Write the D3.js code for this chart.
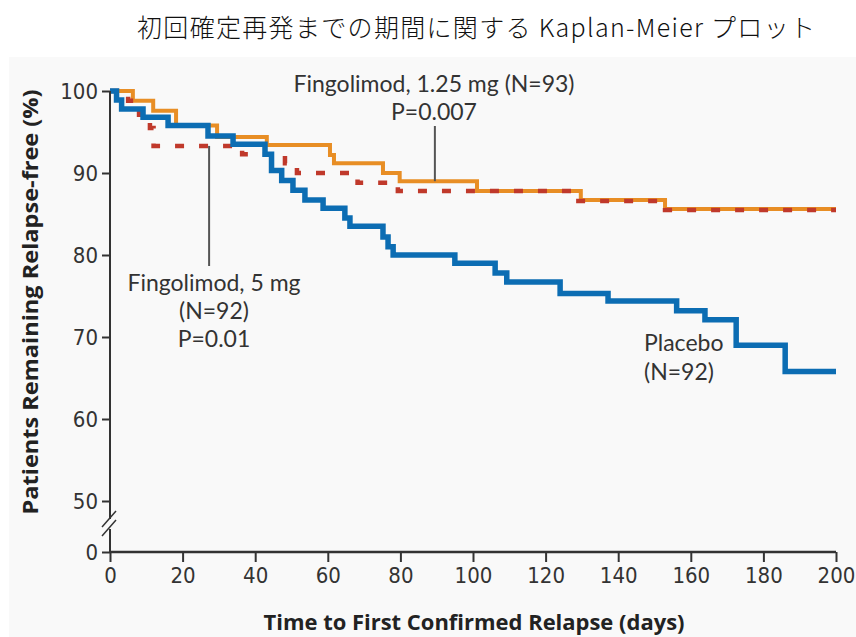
<!DOCTYPE html>
<html>
<head>
<meta charset="utf-8">
<script src="https://cdn.jsdelivr.net/npm/d3@7"></script>
<style>
  html, body { margin: 0; padding: 0; background: #ffffff; }
  svg { display: block; }
</style>
</head>
<body>
<svg id="chart" width="856" height="637"></svg>
<script>
// ---------------- data ----------------
const titleText = "初回確定再発までの期間に関する Kaplan-Meier プロット";
const xTitle = "Time to First Confirmed Relapse (days)";
const yTitle = "Patients Remaining Relapse-free (%)";

const xTicks = [0, 20, 40, 60, 80, 100, 120, 140, 160, 180, 200];
const yTicks = [0, 50, 60, 70, 80, 90, 100];

const placeboDays = [0, 1.8, 3.2, 9.1, 16, 27, 33.9, 42.7, 44.5, 47.3, 50.4, 53.7, 58.7, 64.7, 66.1, 75.2, 76.6, 78.0, 95.0, 106.1, 109.3, 124.0, 137.2, 156.1, 163.9, 172.5, 186.0, 200];
const placeboVals = [100, 98.9, 97.8, 96.8, 95.8, 94.5, 93.5, 92.3, 90.3, 89.1, 87.9, 86.7, 85.7, 84.5, 83.5, 82.2, 81.0, 80.0, 79.0, 77.8, 76.7, 75.3, 74.4, 73.2, 72.1, 69.0, 65.8, 65.8];

const fing125Days = [0, 6.3, 11.9, 18.2, 29.5, 43.2, 60.6, 61.7, 75.2, 79.8, 101.1, 129.7, 152.9, 200];
const fing125Vals = [100, 98.8, 97.6, 95.8, 94.4, 93.4, 92.2, 91.2, 90.0, 89.0, 87.8, 86.7, 85.6, 85.6];

const fing5Days = [0, 5, 8, 11, 12, 36.4, 48.2, 51.5, 68.2, 79.3, 127.5, 152.9, 200];
const fing5Vals = [100, 98.8, 97.1, 95.5, 93.3, 92.3, 91.2, 90.0, 88.8, 87.8, 86.6, 85.5, 85.5];

const label125 = ["Fingolimod, 1.25 mg (N=93)", "P=0.007"];
const label5 = ["Fingolimod, 5 mg", "(N=92)", "P=0.01"];
const labelPlacebo = ["Placebo", "(N=92)"];

// ---------------- layout ----------------
const svg = d3.select("#chart");
const W = 856, H = 637;

svg.append("rect").attr("x", 9).attr("y", 57).attr("width", W - 9).attr("height", H - 57)
  .attr("fill", "#f9f9f9");

const x = d3.scaleLinear().domain([0, 200]).range([110, 836]);
const y = d3.scaleLinear().domain([0, 50, 100]).range([552, 501, 91]);

const axisColor = "#333";
const textColor = "#333";
const tickFont = "'Liberation Sans Narrow', 'DejaVu Sans Condensed', 'Arial Narrow', sans-serif";
const labelFont = "Lato, 'Open Sans', sans-serif";

// title
svg.append("text").attr("x", 476).attr("y", 37).attr("text-anchor", "middle")
  .attr("font-family", "'Noto Sans CJK JP', sans-serif").attr("font-size", 25).attr("font-weight", 300)
  .attr("textLength", 678).attr("lengthAdjust", "spacing")
  .attr("fill", "#111").text(titleText);

// ---- curves ----
const line = d3.line().x(d => x(d[0])).y(d => y(d[1])).curve(d3.curveStepAfter);
const zip = (a, b) => a.map((v, i) => [v, b[i]]);

svg.append("path").datum(zip(fing125Days, fing125Vals)).attr("d", line)
  .attr("fill", "none").attr("stroke", "#e88e25").attr("stroke-width", 4);
svg.append("path").datum(zip(fing5Days, fing5Vals)).attr("d", line)
  .attr("fill", "none").attr("stroke", "#c0392b").attr("stroke-width", 4.5)
  .attr("stroke-dasharray", "9,15");
svg.append("path").datum(zip(placeboDays, placeboVals)).attr("d", line)
  .attr("fill", "none").attr("stroke", "#0c6db3").attr("stroke-width", 5.5);

// ---- axes ----
const yAxis = d3.axisLeft(y).tickValues(yTicks).tickSize(8).tickPadding(4).tickFormat(d3.format("d"));
const gy = svg.append("g").attr("transform", `translate(${x(0)},0)`).call(yAxis);
gy.select(".domain").remove();
gy.selectAll(".tick line").attr("stroke", axisColor).attr("stroke-width", 2);
gy.selectAll(".tick text").attr("font-family", tickFont).attr("font-size", 22).attr("fill", textColor);

const xAxis = d3.axisBottom(x).tickValues(xTicks).tickSize(10).tickPadding(5).tickFormat(d3.format("d"));
const gx = svg.append("g").attr("transform", `translate(0,${y(0)})`).call(xAxis);
gx.select(".domain").attr("stroke", axisColor).attr("stroke-width", 2.5).attr("d", `M${x(0)},0H${x(200)}`);
gx.selectAll(".tick line").attr("stroke", axisColor).attr("stroke-width", 2);
gx.selectAll(".tick text").attr("font-family", tickFont).attr("font-size", 22).attr("fill", textColor);

// y axis line with break
const x0 = x(0);
svg.append("line").attr("x1", x0).attr("x2", x0).attr("y1", y(100)).attr("y2", 519)
  .attr("stroke", axisColor).attr("stroke-width", 2);
svg.append("line").attr("x1", x0).attr("x2", x0).attr("y1", 529).attr("y2", y(0))
  .attr("stroke", axisColor).attr("stroke-width", 2);
[0, 9].forEach(o => {
  svg.append("line").attr("x1", x0 - 8).attr("y1", 527 + o).attr("x2", x0 + 6).attr("y2", 511 + o)
    .attr("stroke", axisColor).attr("stroke-width", 1.5);
});

// axis titles
svg.append("text").attr("x", 474).attr("y", 630).attr("text-anchor", "middle")
  .attr("font-family", "'Open Sans', sans-serif").attr("font-weight", 700).attr("font-size", 22)
  .attr("textLength", 421).attr("lengthAdjust", "spacingAndGlyphs")
  .attr("fill", "#222").text(xTitle);
svg.append("text").attr("transform", "translate(38,302) rotate(-90)").attr("text-anchor", "middle")
  .attr("font-family", "'Open Sans', sans-serif").attr("font-weight", 700).attr("font-size", 21)
  .attr("textLength", 425).attr("lengthAdjust", "spacingAndGlyphs")
  .attr("fill", "#222").text(yTitle);

// ---- annotations ----
const lead = "#555";
svg.append("line").attr("x1", x(89.5)).attr("x2", x(89.5)).attr("y1", 126).attr("y2", y(89.0))
  .attr("stroke", lead).attr("stroke-width", 2);
svg.append("line").attr("x1", x(27.3)).attr("x2", x(27.3)).attr("y1", y(93.3)).attr("y2", 266)
  .attr("stroke", lead).attr("stroke-width", 2);

function block(lines, cx, y0, dy, anchor) {
  lines.forEach((t, i) => {
    svg.append("text").attr("x", cx).attr("y", y0 + i * dy).attr("text-anchor", anchor)
      .attr("font-family", labelFont).attr("font-size", 23).attr("fill", textColor).text(t);
  });
}
block(label125, 434, 92, 28, "middle");
block(label5, 214, 291, 28, "middle");
block(labelPlacebo, 644, 351, 29, "start");
</script>
</body>
</html>
